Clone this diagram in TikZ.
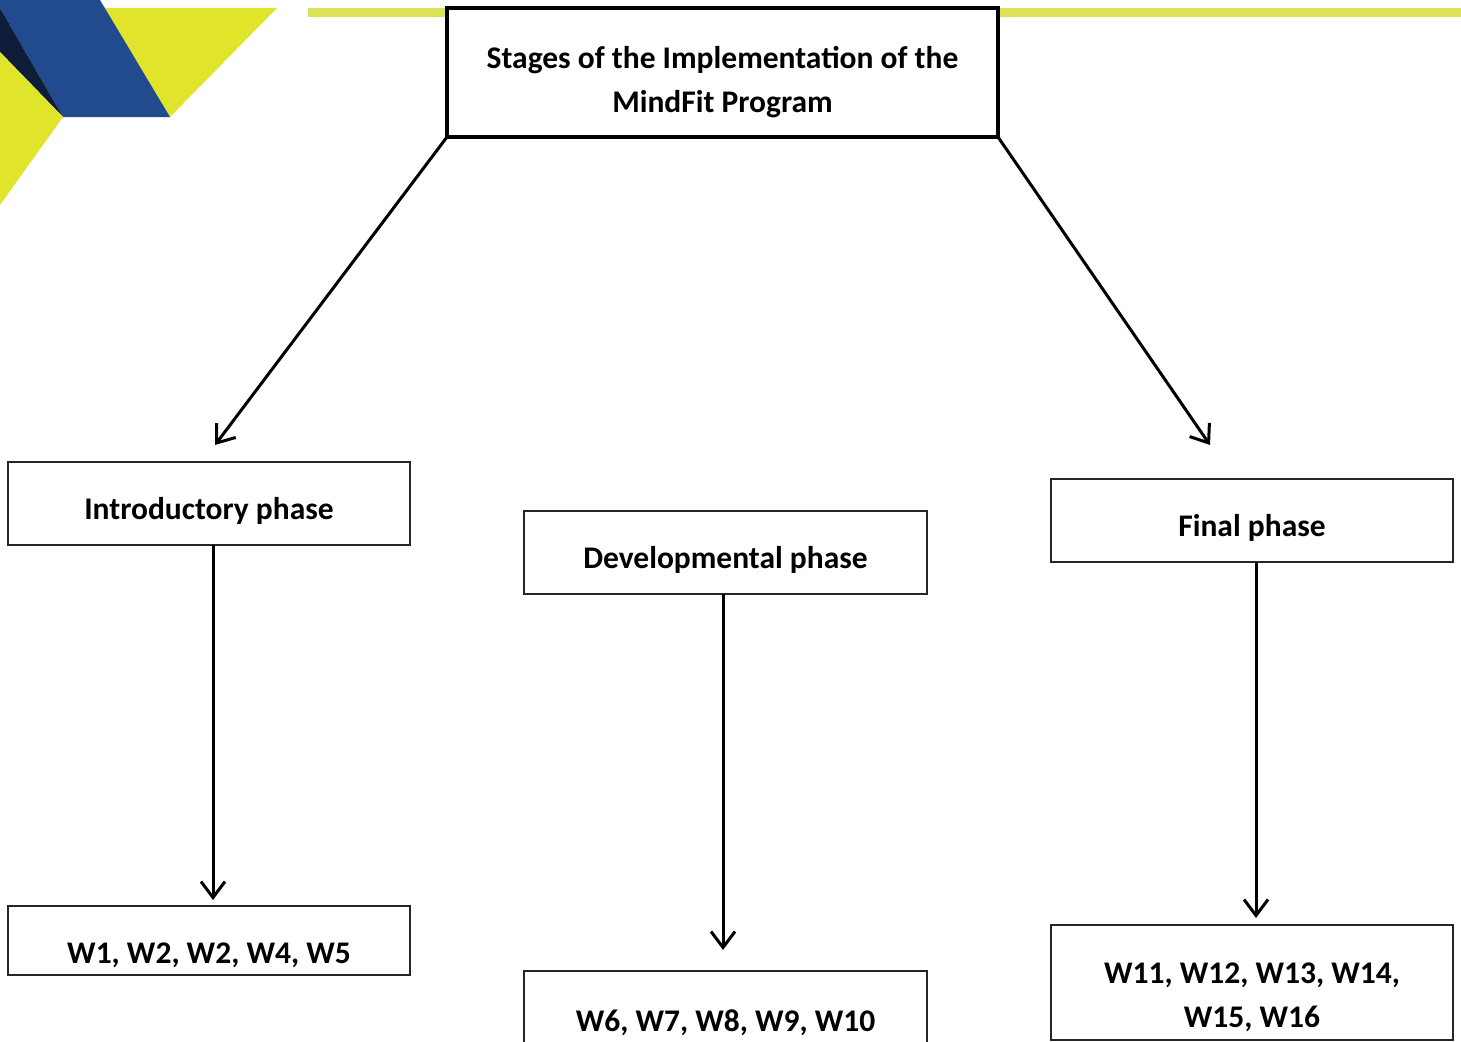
\documentclass[tikz,border=0pt]{standalone}
\usepackage{fontspec}
\setmainfont{Carlito}
\usetikzlibrary{arrows.meta}

\definecolor{logoblue}{HTML}{224A8F}
\definecolor{logonavy}{HTML}{0E1D3A}
\definecolor{logoyellow}{HTML}{E0E52C}
\definecolor{stripyellow}{HTML}{DCE256}

\tikzset{
  phase/.style={draw=black!85,fill=white,line width=1.2pt,inner sep=0pt,outer sep=0pt,
    minimum width=402pt,text height=57pt,text depth=26pt,
    font=\fontsize{31.5}{44}\selectfont\bfseries},
  weeks/.style={phase,align=center},
  arr/.style={-{Straight Barb[length=16pt,width=24pt]},line width=3pt,draw=black}
}

\begin{document}
\begin{tikzpicture}[x=1pt,y=-1pt]

\useasboundingbox (0,0) rectangle (1461,1041);

\fill[logoyellow] (100,8) -- (277,8) -- (170,117) -- cycle;
\fill[logoblue] (0,0) -- (100,0) -- (170,117) -- (63,117) -- (0,8) -- cycle;
\fill[logonavy] (0,8) -- (63,117) -- (0,52) -- cycle;
\fill[logoyellow] (0,52) -- (63,117) -- (0,205) -- cycle;
\fill[stripyellow] (308,8) rectangle (1461,17);

\node[draw,fill=white,line width=4pt,inner sep=0pt,outer sep=0pt,
  minimum width=551pt,align=center,text height=104pt,text depth=25pt,
  font=\fontsize{31.5}{44}\selectfont\bfseries](stages) at (722.5,72.5)
  {Stages of the Implementation of the\\MindFit Program};

\node[phase](introductory phase) at (209,503.5) {Introductory phase};
\node[phase,minimum width=403pt](developmental phase) at (725.5,552.5) {Developmental phase};
\node[phase](final phase) at (1252,520.5) {Final phase};

\node[weeks,text depth=12pt](weeks intro) at (209,940.5) {W1, W2, W2, W4, W5};
\node[weeks,minimum width=403pt,text height=60pt,text depth=20pt](weeks dev) at (725.5,1011) {W6, W7, W8, W9, W10};
\node[weeks,text height=102pt,text depth=13pt](weeks final) at (1252,982.5) {W11, W12, W13, W14,\\W15, W16};

\coordinate (intro tip) at (215,445);
\coordinate (final tip) at (1210,445);

\draw[arr] (stages.south west) to (intro tip);
\draw[arr] (stages.south east) to (final tip);

\draw[arr] ([xshift=4pt]introductory phase.south) to ([xshift=4pt,yshift=6pt]weeks intro.north);
\draw[arr] ([xshift=-2.5pt]developmental phase.south) to ([xshift=-2.5pt,yshift=21pt]weeks dev.north);
\draw[arr] ([xshift=4pt]final phase.south) to ([xshift=4pt,yshift=7pt]weeks final.north);

\end{tikzpicture}
\end{document}
